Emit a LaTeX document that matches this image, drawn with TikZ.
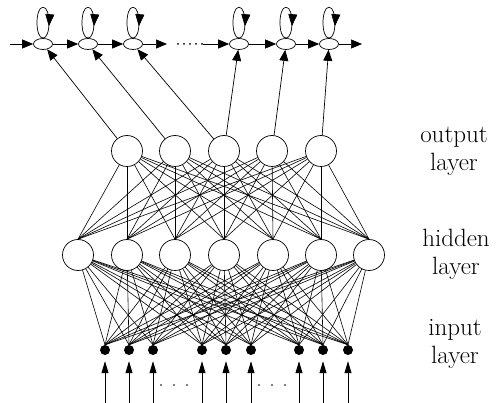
\documentclass[tikz,border=0pt]{standalone}
\usetikzlibrary{positioning, arrows.meta, shapes.geometric, decorations.markings}

\begin{document}
\begin{tikzpicture}[x=1pt, y=-1pt, unit/.style={ circle, draw, fill=white, minimum size=31pt, inner sep=0pt, line width=0.7pt }, inunit/.style={ circle, fill=black, minimum size=10pt, inner sep=0pt }, cell/.style={ ellipse, draw, minimum width=19pt, minimum height=11pt, inner sep=0pt, line width=0.7pt }, wire/.style={ line width=0.6pt }, arrow/.style={ -{Triangle[length=11pt, width=9pt]}, line width=0.7pt }, inarrow/.style={ -{Triangle[length=12pt, width=7pt]}, line width=0.8pt, shorten >=6pt }, selfloop/.style={ line width=0.7pt, decoration={markings, mark=at position 0.8 with {\arrow{Triangle[length=12pt, width=9pt]}}}, postaction={decorate} }, dots/.style={ line width=2pt, line cap=round, dash pattern=on 0pt off 6pt }, gapdots/.style={ line width=1.8pt, line cap=round, dash pattern=on 0pt off 13pt }, lbl/.style={ align=center, font=\fontsize{25}{28}\selectfont } ]
\useasboundingbox (0,0) rectangle (498,403);

% --- Catena in alto ---
\foreach \x [count=\i] in {43,88,133,239,286,329} \node[cell] (e\i) at (\x,44) {};

\coordinate (chainin) at (10,44);
\coordinate (chainbreak) at (167,44);
\coordinate (dotsL) at (178,44);
\coordinate (dotsR) at (202.5,44);
\coordinate (chainout) at (362,44);

\draw[arrow] (chainin) -- (e1); \draw[arrow] (e1) -- (e2); \draw[arrow] (e2) -- (e3); \draw[arrow] (e3) -- (chainbreak);
\draw[dots] (dotsL) -- (dotsR);
\draw[arrow] (dotsR) -- (e4); \draw[arrow] (e4) -- (e5); \draw[arrow] (e5) -- (e6); \draw[arrow] (e6) -- (chainout);

\foreach \i in {1,...,6} \draw[selfloop] (e\i.north) .. controls +(-8,0) and +(-8,0) .. ++(0,-31) .. controls +(8,0) and +(8,0) .. (e\i.north);

% --- Strati della rete ---
\foreach \x [count=\i] in {127,175,224,272,321} \node[unit] (o\i) at (\x,151) {};
\foreach \x [count=\i] in {78,127,175,224,273,321,369} \node[unit] (h\i) at (\x,255) {};
\foreach \x [count=\i] in {105,129,153,202,226,251,299,323,348} \node[inunit] (in\i) at (\x,350) {};

% --- Collegamenti ---
\foreach \i in {1,...,5} \foreach \j in {1,...,7} \draw[wire] (o\i) -- (h\j.north);
\foreach \i in {1,...,7} \foreach \j in {1,...,9} \draw[wire] (h\i) -- (in\j.north);

\draw[arrow] (o1) -- (e1); \draw[arrow] (o2) -- (e2); \draw[arrow] (o3) -- (e3); \draw[arrow] (o3) -- (e4); \draw[arrow] (o4) -- (e5); \draw[arrow] (o5) -- (e6);

% --- Ingressi ---
\foreach \i in {1,...,9} { \path (in\i) ++(0,53) coordinate (src\i); \draw[inarrow] (src\i) -- (in\i); }

\coordinate (gapA) at (161,385); \coordinate (gapB) at (187.5,385);
\coordinate (gapC) at (259,385); \coordinate (gapD) at (285.5,385);
\draw[gapdots] (gapA) -- (gapB); \draw[gapdots] (gapC) -- (gapD);

% --- Etichette ---
\node[lbl] (outlbl) at (454,151) {output\\layer};
\node[lbl] (hidlbl) at (456,254) {hidden\\layer};
\node[lbl] (inlbl) at (455,344) {input\\layer};
\end{tikzpicture}
\end{document}
